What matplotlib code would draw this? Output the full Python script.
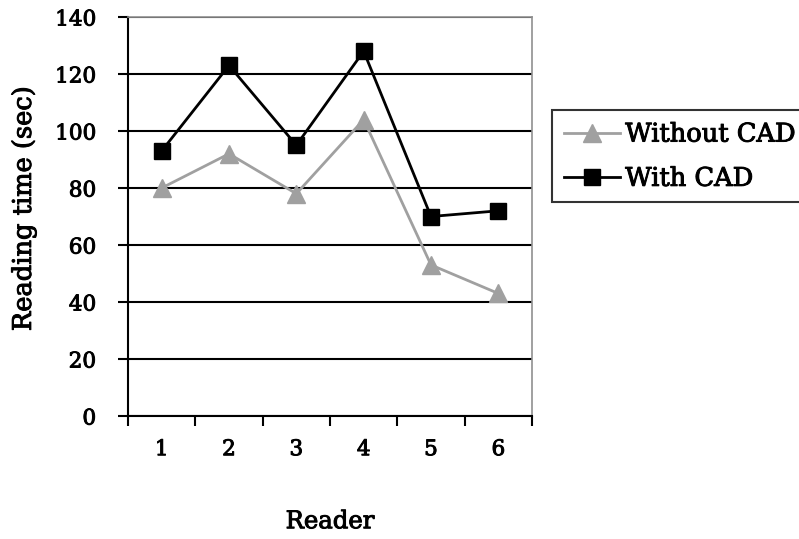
import matplotlib.pyplot as plt
import matplotlib.patheffects as pe
import numpy as np

readers = [1, 2, 3, 4, 5, 6]
without_cad = [80, 92, 78, 104, 53, 43]
with_cad = [93, 123, 95, 128, 70, 72]
y_ticks = [0, 20, 40, 60, 80, 100, 120, 140]

plt.rcParams['font.family'] = ['DejaVu Serif']

fig = plt.figure(figsize=(7.99, 5.39), dpi=100)
ax = fig.add_axes([128 / 799, 1 - 416 / 539, 404 / 799, 399 / 539])

# reading times per reader
ax.plot(readers, without_cad, color='#a0a0a0', linewidth=2, marker='^',
        markersize=13, label='Without CAD', zorder=3)
ax.plot(readers, with_cad, color='black', linewidth=2, marker='s',
        markersize=11, label='With CAD', zorder=4)

ax.set_xlim(0.5, 6.5)
ax.set_ylim(0, 140)
ax.set_yticks(y_ticks)
ax.yaxis.grid(True, color='black', linewidth=1.5)
ax.set_axisbelow(True)

# category boundaries get the tick marks, labels sit in the middle
ax.set_xticks(np.arange(0.5, 7, 1))
ax.set_xticklabels([])
ax.set_xticks(readers, minor=True)
ax.set_xticklabels([str(r) for r in readers], minor=True)
ax.tick_params(axis='x', which='major', direction='out', length=7, width=1.5)
ax.tick_params(axis='x', which='minor', length=0, pad=16, labelsize=15.5)
ax.tick_params(axis='y', direction='out', length=7, width=1.5, pad=16, labelsize=15.5)

for side in ['left', 'bottom']:
    ax.spines[side].set_linewidth(1.5)
for side in ['top', 'right']:
    ax.spines[side].set_color('#909090')
    ax.spines[side].set_linewidth(1.2)

ax.set_ylabel('Reading time (sec)', fontsize=18.5)
ax.yaxis.set_label_coords(-0.228, 0.52)
ax.set_xlabel('Reader', fontsize=17.5, labelpad=36)

leg = fig.legend(loc='upper left', bbox_to_anchor=(552 / 799, 1 - 110 / 539),
                 fontsize=18.5, frameon=True, fancybox=False, edgecolor='black',
                 handlelength=2.2, handletextpad=0.2, borderpad=0.45,
                 labelspacing=0.75, borderaxespad=0)
leg.get_frame().set_linewidth(1.5)

# slightly heavier type
heavy = [pe.withStroke(linewidth=0.7, foreground='black')]
texts = (ax.get_yticklabels() + ax.get_xticklabels(minor=True)
         + [ax.xaxis.label, ax.yaxis.label] + leg.get_texts())
for t in texts:
    t.set_path_effects(heavy)

fig.savefig('out.png', dpi=100)
